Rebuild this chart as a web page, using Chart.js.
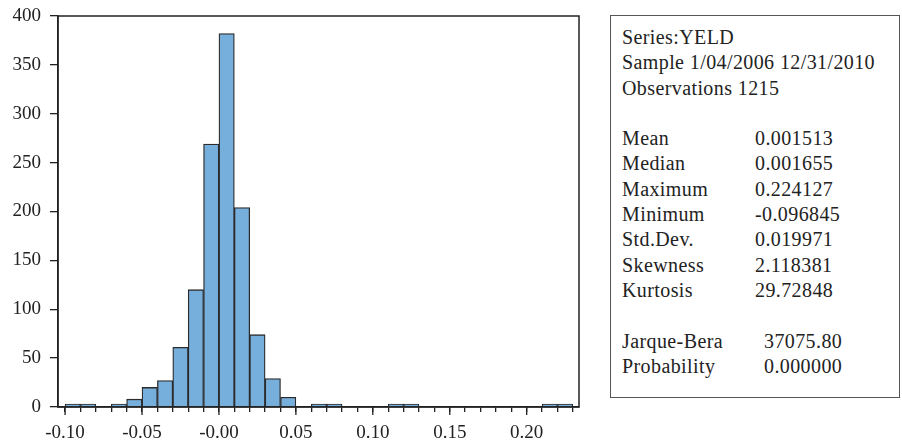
<!DOCTYPE html>
<html>
<head>
<meta charset="utf-8">
<script src="https://cdn.jsdelivr.net/npm/chart.js@4/dist/chart.umd.min.js"></script>
<style>
  html, body { margin: 0; padding: 0; background: #fff; }
  #wrap { position: relative; width: 902px; height: 445px; }
  #plot { position: absolute; left: 0; top: 0; width: 600px; height: 445px; }
  #stats {
    position: absolute; left: 610px; top: 15px; width: 290px; height: 383px;
    border: 1.5px solid #555;
    font-family: "Liberation Serif", "Times New Roman", serif;
    font-size: 20px; letter-spacing: 0.4px; color: #222;
    line-height: 25.3px; padding-top: 9px; padding-left: 11px; box-sizing: border-box;
  }
  #stats .row { white-space: nowrap; height: 25.3px; }
  #stats .lab { display: inline-block; width: 133px; }
  #stats .pad { padding-left: 9px; }
</style>
</head>
<body>
<div id="wrap">
  <div id="plot"><canvas id="hist"></canvas></div>
  <div id="stats"></div>
</div>
<script>
// histogram bins: left edge of each 0.01-wide bin
const binStarts = [-0.10, -0.09, -0.08, -0.07, -0.06, -0.05, -0.04, -0.03, -0.02, -0.01,
  0.00, 0.01, 0.02, 0.03, 0.04, 0.05, 0.06, 0.07, 0.08, 0.09, 0.10, 0.11, 0.12,
  0.13, 0.14, 0.15, 0.16, 0.17, 0.18, 0.19, 0.20, 0.21, 0.22];
const counts = [1, 1, 0, 2, 8, 20, 27, 61, 120, 269,
  382, 204, 74, 29, 10, 0, 1, 2, 0, 0, 0, 1, 1,
  0, 0, 0, 0, 0, 0, 0, 0, 1, 1];
const binWidth = 0.01;

const headerLines = ['Series:YELD', 'Sample 1/04/2006 12/31/2010', 'Observations 1215'];
const statNames = ['Mean', 'Median', 'Maximum', 'Minimum', 'Std.Dev.', 'Skewness', 'Kurtosis'];
const statValues = ['0.001513', '0.001655', '0.224127', '-0.096845', '0.019971', '2.118381', '29.72848'];
const testNames = ['Jarque-Bera', 'Probability'];
const testValues = ['37075.80', '0.000000'];

// stats box
const box = document.getElementById('stats');
let html = '';
headerLines.forEach(t => { html += '<div class="row">' + t + '</div>'; });
html += '<div class="row"></div>';
statNames.forEach((n, i) => {
  html += '<div class="row"><span class="lab">' + n + '</span>' + statValues[i] + '</div>';
});
html += '<div class="row"></div>';
testNames.forEach((n, i) => {
  html += '<div class="row"><span class="lab">' + n + '</span><span class="pad">' + testValues[i] + '</span></div>';
});
box.innerHTML = html;

// empty bins get no bar at all
const points = binStarts.map((s, i) => ({ x: s + binWidth / 2, y: counts[i] || null }));

// box round the plot area, plus longer tick marks at the labelled x values
const frame = {
  id: 'frame',
  afterDatasetsDraw(chart) {
    const a = chart.chartArea;
    const ctx = chart.ctx;
    ctx.save();
    ctx.strokeStyle = '#222';
    ctx.lineWidth = 1.5;
    ctx.strokeRect(a.left, a.top, a.right - a.left, a.bottom - a.top);
    const xs = chart.scales.x;
    ctx.lineWidth = 1.3;
    xs.ticks.forEach(t => {
      if (Math.round(t.value * 100) % 5 !== 0) return;
      const px = xs.getPixelForValue(t.value);
      ctx.beginPath();
      ctx.moveTo(px, a.bottom);
      ctx.lineTo(px, a.bottom + 8);
      ctx.stroke();
    });
    ctx.restore();
  }
};

const tickFont = { family: '"Liberation Serif", "Times New Roman", serif', size: 19 };

new Chart(document.getElementById('hist'), {
  type: 'bar',
  data: {
    datasets: [{
      data: points,
      backgroundColor: '#76aedc',
      borderColor: '#2b2b2b',
      borderWidth: 1.3,
      minBarLength: 3,
      barPercentage: 1,
      categoryPercentage: 1
    }]
  },
  options: {
    responsive: true,
    maintainAspectRatio: false,
    animation: false,
    layout: { padding: { top: 16, right: 21, left: 0, bottom: 0 } },
    plugins: { legend: { display: false }, tooltip: { enabled: false } },
    scales: {
      x: {
        type: 'linear',
        offset: false,
        min: -0.1046,
        max: 0.234,
        grid: { offset: false, drawOnChartArea: false, tickLength: 5, color: '#222', lineWidth: 1.3 },
        border: { color: '#222', width: 1.5 },
        ticks: {
          stepSize: 0.01,
          includeBounds: false,
          autoSkip: false,
          maxRotation: 0,
          padding: 10,
          color: '#222',
          font: tickFont,
          callback(v) {
            const k = Math.round(v * 100);
            if (k % 5 !== 0) return '';
            return k === 0 ? '-0.00' : (k / 100).toFixed(2);
          }
        },
        afterFit(axis) { axis.height = 38; axis.paddingLeft = 0; axis.paddingRight = 0; }
      },
      y: {
        min: 0,
        max: 400,
        grid: { drawOnChartArea: false, tickLength: 8, color: '#222', lineWidth: 1.3 },
        border: { color: '#222', width: 1.5 },
        ticks: { stepSize: 50, padding: 9, color: '#222', font: tickFont },
        afterFit(axis) { axis.width = 58; axis.paddingTop = 0; axis.paddingBottom = 0; }
      }
    }
  },
  plugins: [frame]
});
</script>
</body>
</html>
